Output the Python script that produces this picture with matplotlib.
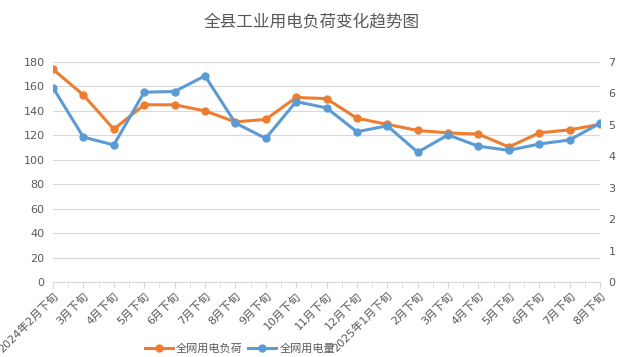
import matplotlib
matplotlib.use('Agg')
import matplotlib.pyplot as plt
from matplotlib.ticker import MultipleLocator

plt.rcParams['font.family'] = ['DejaVu Sans', 'Noto Sans CJK SC']

# 横轴标签
periods = ['2024年2月下旬', '3月下旬', '4月下旬', '5月下旬', '6月下旬', '7月下旬',
           '8月下旬', '9月下旬', '10月下旬', '11月下旬', '12月下旬', '2025年1月下旬',
           '2月下旬', '3月下旬', '4月下旬', '5月下旬', '6月下旬', '7月下旬', '8月下旬']
# 全网用电负荷（左轴）
load = [174, 153, 125, 145, 145, 140, 131, 133, 151, 150, 134, 129,
        124, 122, 121, 110.5, 122, 124.5, 129]
# 全网用电量（右轴）
energy = [6.18, 4.61, 4.36, 6.04, 6.06, 6.56, 5.06, 4.57, 5.74, 5.54, 4.78, 4.97,
          4.13, 4.68, 4.32, 4.19, 4.39, 4.52, 5.05]

orange = '#ED7D31'
blue = '#5B9BD5'
gray = '#595959'
grid_c = '#D9D9D9'

fig = plt.figure(figsize=(6.24, 3.57), dpi=100)
ax = fig.add_axes([53 / 624, 1 - 282 / 357, 547 / 624, 220 / 357])
ax2 = ax.twinx()

x = list(range(len(periods)))
l1, = ax.plot(x, load, color=orange, lw=2.2, marker='o', ms=5, label='全网用电负荷', zorder=3)
l2, = ax2.plot(x, energy, color=blue, lw=2.2, marker='o', ms=5, label='全网用电量', zorder=3)

ax.set_xlim(0, len(periods) - 1)
ax.set_ylim(0, 180)
ax2.set_ylim(0, 7)
ax.yaxis.set_major_locator(MultipleLocator(20))
ax2.yaxis.set_major_locator(MultipleLocator(1))

ax.set_xticks(x)
ax.set_xticks([i + 0.5 for i in x[:-1]], minor=True)
ax.set_xticklabels(periods, rotation=45, ha='right', rotation_mode='anchor')

ax.grid(axis='y', color=grid_c, lw=0.8)
ax.set_axisbelow(True)
for a in (ax, ax2):
    for s in a.spines.values():
        s.set_visible(False)
ax.spines['bottom'].set_visible(True)
ax.spines['bottom'].set_color(grid_c)

ax.tick_params(axis='y', length=0, labelsize=8, labelcolor=gray, pad=6)
ax2.tick_params(axis='y', length=0, labelsize=8, labelcolor=gray, pad=6)
ax.tick_params(axis='x', which='both', length=4, color=grid_c, labelsize=8, labelcolor=gray, pad=2)

fig.text(0.5, 1 - 21 / 357, '全县工业用电负荷变化趋势图', ha='center', va='center',
         fontsize=12, color=gray)

fig.legend(handles=[l1, l2], loc='center', bbox_to_anchor=(240 / 624, 1 - 349 / 357),
           ncol=2, frameon=False, fontsize=8, labelcolor=gray,
           handlelength=2.5, handletextpad=0.3, columnspacing=0.5)

plt.savefig('out.png', dpi=100)
